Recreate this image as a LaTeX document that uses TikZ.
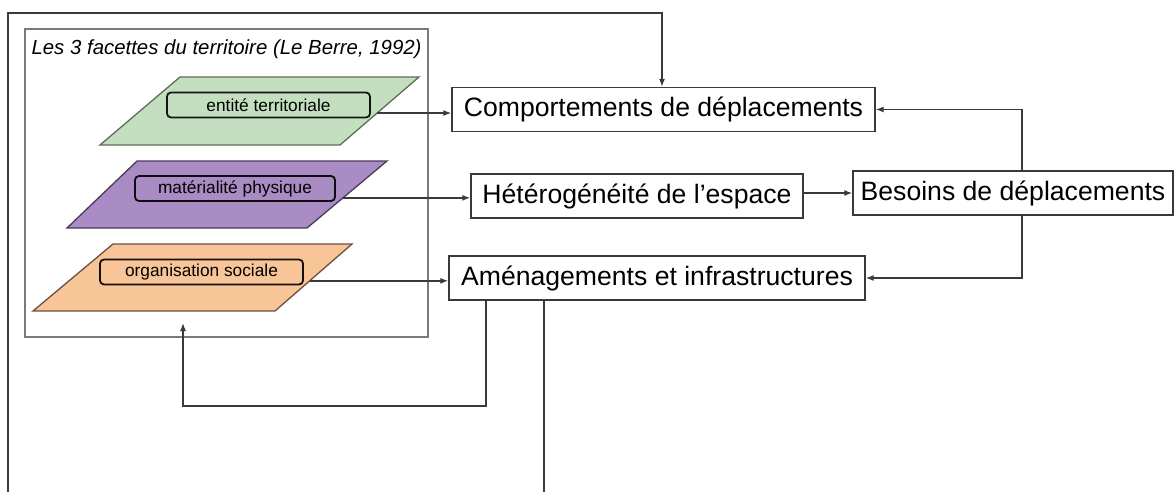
\documentclass[tikz,border=0pt]{standalone}
\usepackage{fontspec}
\setmainfont{Liberation Sans}
\usetikzlibrary{arrows.meta,calc}
\definecolor{gfill}{HTML}{C4DFC0}
\definecolor{gline}{HTML}{5C6E58}
\definecolor{pfill}{HTML}{A98CC3}
\definecolor{pline}{HTML}{4A3B5A}
\definecolor{ofill}{HTML}{F8C598}
\definecolor{oline}{HTML}{6B5040}
\definecolor{conn}{HTML}{3A3A3A}
\definecolor{frame}{HTML}{7A7A7A}
\tikzset{
  bigbox/.style={draw=conn,line width=1.4pt,fill=white,minimum height=44pt,inner sep=0pt,
    font=\fontsize{26.6}{30}\selectfont},
  layer/.style={line width=1.3pt},
  tag/.style={draw=#1,line width=1.8pt,rounded corners=4pt,inner sep=0pt,minimum height=25pt,
    font=\fontsize{17.3}{20}\selectfont},
  link/.style={draw=conn,line width=1.3pt,-{Latex[length=8pt,width=6pt]}},
  plain/.style={draw=conn,line width=1.3pt},
}
\begin{document}
\begin{tikzpicture}[x=1pt,y=-1pt]
\useasboundingbox (0,0) rectangle (1174,492);
% frame
\node[draw=frame,line width=1.4pt,minimum width=403pt,minimum height=308pt,inner sep=0pt] (frame) at (226.5,183) {};
\node[anchor=west,font=\fontsize{20.4}{24}\selectfont\itshape] (title) at (28,49) {Les 3 facettes du territoire (Le Berre, 1992)};
% layers
\filldraw[layer,draw=gline,fill=gfill] (180,77) coordinate (g1) -- (419,77) coordinate (g2) -- (340,145) coordinate (g3) -- (100,145) coordinate (g4) -- cycle;
\filldraw[layer,draw=pline,fill=pfill] (137,161) coordinate (p1) -- (387,161) coordinate (p2) -- (307,228) coordinate (p3) -- (67,228) coordinate (p4) -- cycle;
\filldraw[layer,draw=oline,fill=ofill] (113,244) coordinate (o1) -- (352,244) coordinate (o2) -- (275,311) coordinate (o3) -- (33,311) coordinate (o4) -- cycle;
\node[tag=black!80!gline,fill=gfill,minimum width=203pt] (tg) at (268.5,105) {entité territoriale};
\node[tag=black!80!pline,fill=pfill,minimum width=200pt] (tp) at (235,188.5) {matérialité physique};
\node[tag=black!80!oline,fill=ofill,minimum width=203pt] (to) at (201.5,272) {organisation sociale};
\coordinate (gs) at ($(g2)!0.53!(g3)$);
\coordinate (ps) at ($(p2)!0.55!(p3)$);
\coordinate (os) at ($(o2)!0.55!(o3)$);
% boxes
\node[bigbox,minimum width=423pt] (comp) at (663.5,109.5) {Comportements de déplacements};
\node[bigbox,minimum width=332pt] (het) at (637,196) {Hétérogénéité de l’espace};
\node[bigbox,minimum width=320pt] (bes) at (1013,193) {Besoins de déplacements};
\node[bigbox,minimum width=416pt] (amen) at (657,278) {Aménagements et infrastructures};
% helper coordinates
\coordinate (topL) at (8,13);
\coordinate (botL) at (8,492);
\coordinate (topR) at (662,13);
\coordinate (besx) at (1022,193);
\coordinate (a1) at (486,300);
\coordinate (a2) at (544,300);
\coordinate (a2b) at (544,492);
\coordinate (loopB) at (486,406);
\coordinate (loopL) at (183,406);
\coordinate (loopT) at (183,323);
% connectors
\draw[link] (gs) -- (gs -| comp.west);
\draw[link] (ps) -- (ps -| het.west);
\draw[link] (os) -- (os -| amen.west);
\draw[link] (het.east |- besx) -- (besx -| bes.west);
\draw[link] (besx |- bes.north) |- (comp.east);
\draw[link] (besx |- bes.south) |- (amen.east);
\draw[link] (botL) -- (topL) -- (topR) -- (topR |- comp.north);
\draw[plain] (a2) -- (a2b);
\draw[link] (a1) -- (loopB) -- (loopL) -- (loopT);
\end{tikzpicture}
\end{document}
